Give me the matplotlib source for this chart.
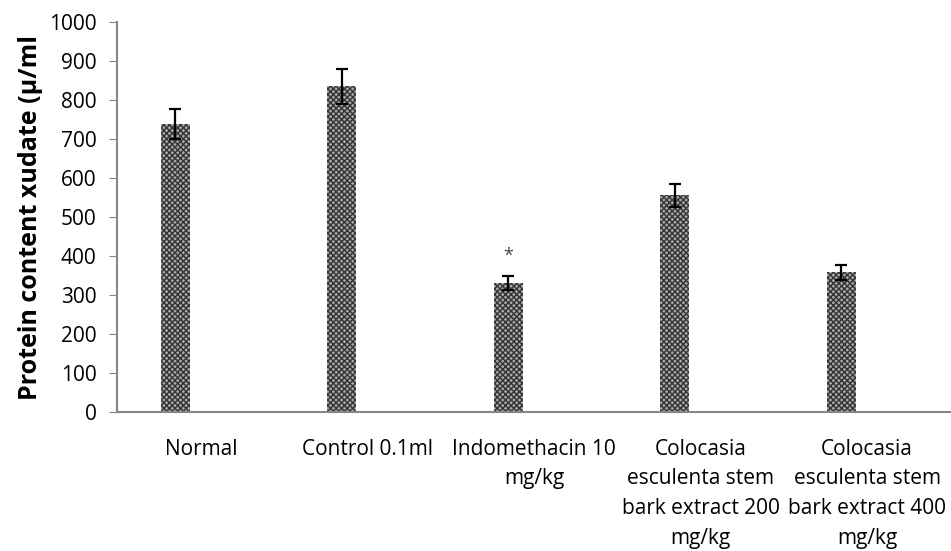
import numpy as np
import matplotlib.pyplot as plt
import matplotlib.transforms as mtransforms

categories = ["Normal", "Control 0.1ml", "Indomethacin 10\nmg/kg",
              "Colocasia\nesculenta stem\nbark extract 200\nmg/kg",
              "Colocasia\nesculenta stem\nbark extract 400\nmg/kg"]
protein = [738, 835, 330, 556, 358]
sem = [38, 45, 18, 29, 18]
yticks = list(range(0, 1001, 100))

plt.rcParams['font.family'] = ['Open Sans', 'DejaVu Sans']
plt.rcParams['hatch.linewidth'] = 1.0
plt.rcParams['hatch.color'] = '#3a3a3a'

fig = plt.figure(figsize=(9.51, 5.51), dpi=100)
ax = fig.add_axes([0.1234, 0.252, 0.8766, 0.708])

x = np.arange(len(categories))
ax.bar(x, protein, width=0.175, color='#a8a8a8', hatch='xxxxxx',
       edgecolor='#333333', linewidth=0)
ax.errorbar(x, protein, yerr=sem, fmt='none', ecolor='black',
            elinewidth=1.6, capsize=4.5, capthick=1.6)
ax.text(2, 400, "*", ha='center', va='center', fontsize=13, color='#444444')

ax.set_xlim(-0.347, 4.66)
ax.set_ylim(0, 1000)
ax.set_yticks(yticks)
ax.set_xticks(x)
ax.set_xticklabels(categories, fontsize=15, linespacing=1.56, va='top')
ax.tick_params(axis='x', length=0, pad=19)
ax.tick_params(axis='y', length=6, color='#868686', labelsize=15, pad=9)

# excel put the category labels a bit right of the bars
shift = mtransforms.ScaledTranslation(26 / 100, 0, fig.dpi_scale_trans)
for lab in ax.get_xticklabels():
    lab.set_transform(lab.get_transform() + shift)

for s in ['top', 'right']:
    ax.spines[s].set_visible(False)
for s in ['left', 'bottom']:
    ax.spines[s].set_color('#868686')
    ax.spines[s].set_linewidth(1.5)

ax.set_ylabel("Protein content xudate (µ/ml", fontsize=18, fontweight='bold', labelpad=4)

fig.savefig("out.png", dpi=100)
